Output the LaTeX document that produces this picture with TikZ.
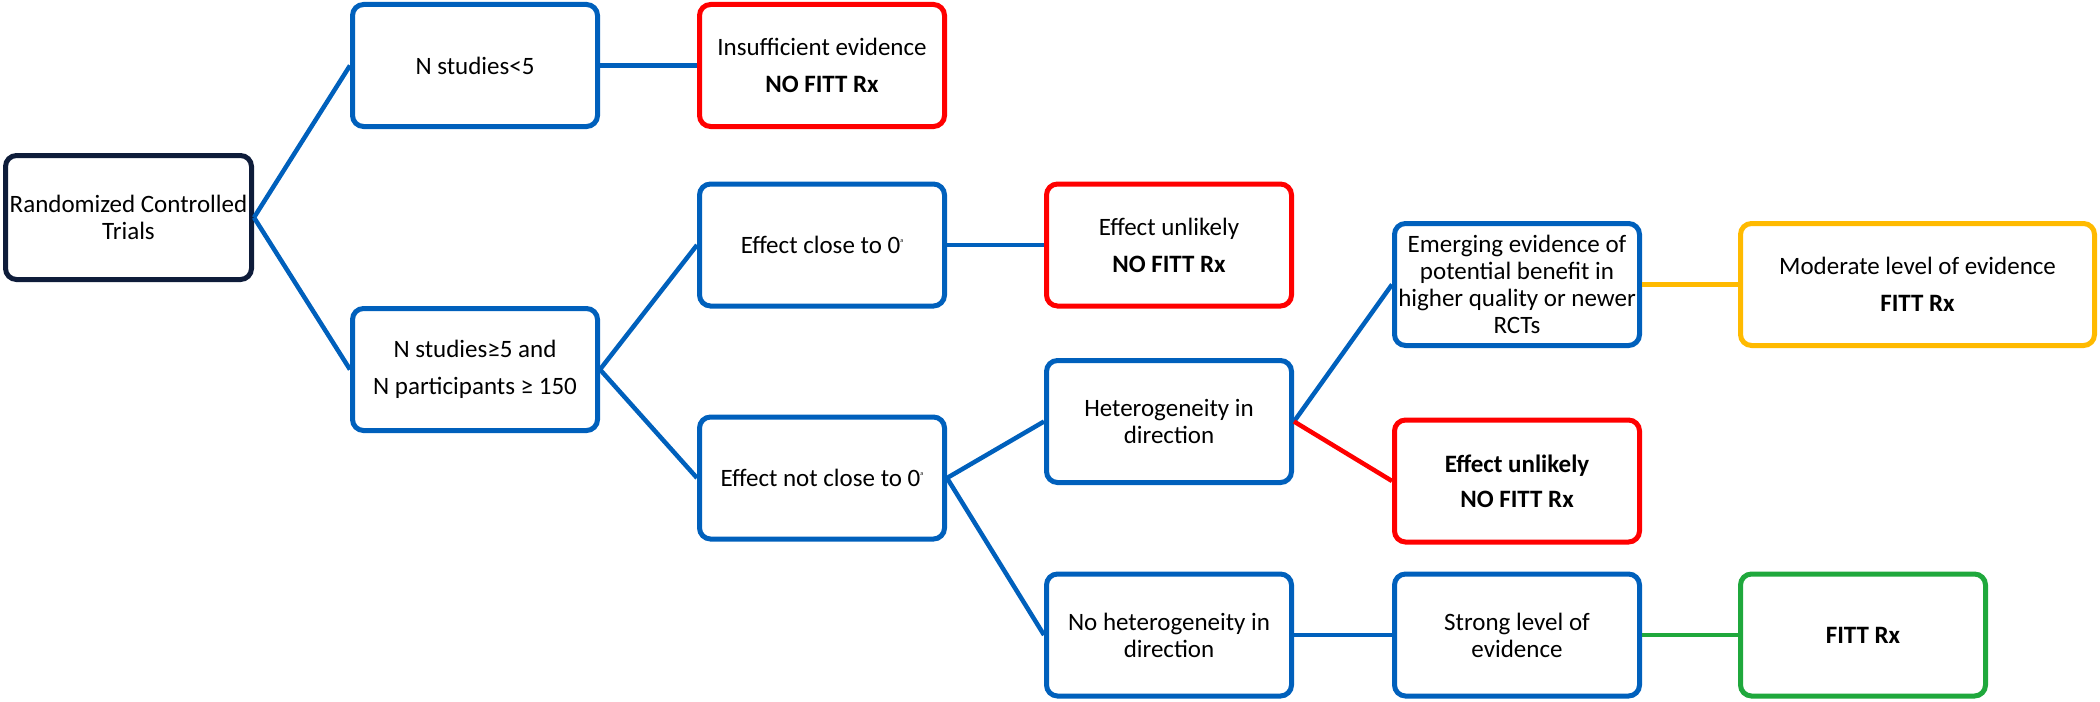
\documentclass[tikz,border=0pt]{standalone}
\usepackage{fontspec}
\setmainfont{Carlito}
\definecolor{cblue}{HTML}{0060BC}
\definecolor{cred}{HTML}{FF0000}
\definecolor{cyellow}{HTML}{FFBA00}
\definecolor{cgreen}{HTML}{1FA83C}
\definecolor{cnavy}{HTML}{0E1C3A}
\newcommand{\supa}{\raisebox{11pt}{\fontsize{6}{6}\selectfont a}}
\tikzset{
  box/.style={draw, rounded corners=11pt, line width=5pt, minimum width=245pt,
    minimum height=122pt, inner sep=0pt, align=center, fill=white,
    font=\fontsize{25}{27}\selectfont},
  bluebox/.style={box, draw=cblue},
  redbox/.style={box, draw=cred},
  yellowbox/.style={box, draw=cyellow},
  greenbox/.style={box, draw=cgreen},
  navybox/.style={box, draw=cnavy, minimum width=246pt, minimum height=124pt},
  conn/.style={line width=4.5pt, draw=cblue},
  redconn/.style={line width=4.5pt, draw=cred},
  yellowconn/.style={line width=4.5pt, draw=cyellow},
  greenconn/.style={line width=4.5pt, draw=cgreen},
}
\begin{document}
\begin{tikzpicture}[x=1pt,y=-1pt]
\useasboundingbox (0,0) rectangle (2100,701);
% nodes
\node[navybox] (rct) at (128.5,217.5) {Randomized Controlled\\Trials};
\node[bluebox] (nlt) at (475,65.5) {N studies{<}5};
\node[redbox] (insuf) at (822,65.5) {Insufficient evidence\\[10pt]\textbf{NO FITT Rx}};
\node[bluebox] (nge) at (475,369.5) {N studies≥5 and\\[10pt]N participants ≥ 150};
\node[bluebox] (eclose) at (822,245) {Effect close to 0\supa};
\node[redbox] (eu1) at (1169,245) {Effect unlikely\\[10pt]\textbf{NO FITT Rx}};
\node[bluebox] (enot) at (822,478) {Effect not close to 0\supa};
\node[bluebox] (het) at (1169,421.5) {Heterogeneity in\\direction};
\node[bluebox] (emerg) at (1517,284.5) {Emerging evidence of\\potential benefit in\\higher quality or newer\\RCTs};
\node[yellowbox, minimum width=354pt] (moder) at (1917.5,284.5) {Moderate level of evidence\\[10pt]\textbf{FITT Rx}};
\node[redbox] (eu2) at (1517,481) {\textbf{Effect unlikely}\\[8pt]\textbf{NO FITT Rx}};
\node[bluebox] (nohet) at (1169,635) {No heterogeneity in\\direction};
\node[bluebox] (strong) at (1517,635) {Strong level of\\evidence};
\node[greenbox] (fitt) at (1863,635) {\textbf{FITT Rx}};
% connectors
\draw[conn] (rct.east) -- (nlt.west);
\draw[conn] (rct.east) -- (nge.west);
\draw[conn] (nlt.east) -- (insuf.west);
\draw[conn] (nge.east) -- (eclose.west);
\draw[conn] (nge.east) -- (enot.west);
\draw[conn] (eclose.east) -- (eu1.west);
\draw[conn] (enot.east) -- (het.west);
\draw[conn] (enot.east) -- (nohet.west);
\draw[conn] (het.east) -- (emerg.west);
\draw[redconn] (het.east) -- (eu2.west);
\draw[yellowconn] (emerg.east) -- (moder.west);
\draw[conn] (nohet.east) -- (strong.west);
\draw[greenconn] (strong.east) -- (fitt.west);
\end{tikzpicture}
\end{document}
